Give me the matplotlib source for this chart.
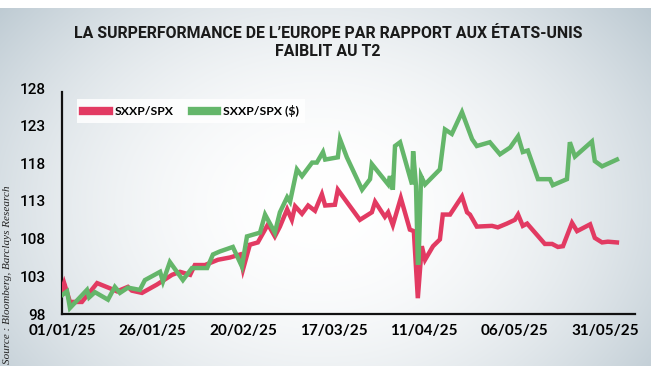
"""Ratio SXXP/SPX depuis le 01/01/25 (base 100) → out.png"""
import numpy as np
import pandas as pd
import matplotlib

matplotlib.use("Agg")
import matplotlib.pyplot as plt
from matplotlib.lines import Line2D

# jours écoulés depuis le 01/01/25 et valeurs
jours_eur = [0, 0.6, 2.2, 5.5, 9.7, 13.3, 15.2, 18.2, 19.3, 22.1, 26.2, 30.4, 32.6,
             35.4, 36.7, 39.5, 43.1, 46.4, 49.2, 50.0, 51.9, 54.1, 56.9, 58.8, 60.2,
             62.2, 63.5, 64.4, 66.3, 68.0, 69.9, 71.8, 72.7, 75.4, 76.2, 82.3, 85.6,
             86.5, 89.2, 90.1, 91.4, 93.6, 96.1, 97.2, 98.3, 99.4, 100.3, 102.5,
             104.4, 105.2, 107.2, 110.5, 111.9, 112.7, 114.6, 118.8, 120.4, 122.9,
             125.1, 126.0, 127.3, 128.5, 133.4, 135.4, 137.0, 138.4, 140.9, 142.3,
             145.9, 147.2, 149.2, 150.8, 153.3]
sxxp_spx = [101.2, 102.1, 99.6, 99.6, 102.1, 101.4, 101.0, 101.6, 101.1, 100.8, 101.9,
            103.2, 103.6, 103.2, 104.5, 104.5, 105.2, 105.5, 105.9, 103.9, 107.2,
            107.5, 109.9, 108.3, 109.6, 111.9, 110.5, 112.3, 111.3, 112.4, 111.7,
            113.9, 112.4, 112.5, 114.5, 110.5, 111.5, 112.9, 110.9, 111.5, 109.8,
            113.4, 109.2, 109.0, 100.1, 107.0, 105.2, 107.0, 107.9, 111.2, 111.2,
            113.6, 111.5, 111.2, 109.6, 109.7, 109.5, 110.0, 110.5, 111.2, 109.7,
            110.0, 107.3, 107.3, 106.9, 107.0, 110.1, 109.0, 109.9, 108.1, 107.5,
            107.6, 107.5]

jours_usd = [0, 1.4, 2.2, 6.9, 7.5, 9.1, 12.7, 14.6, 16.0, 18.2, 21.5, 22.9, 27.1,
             27.9, 29.8, 33.4, 35.9, 40.1, 41.7, 43.6, 47.2, 49.7, 51.1, 54.7, 56.1,
             58.8, 60.2, 62.2, 63.0, 64.9, 66.3, 69.1, 70.4, 72.1, 72.7, 76.2, 76.8,
             78.7, 82.9, 85.1, 85.6, 90.1, 90.6, 91.4, 92.0, 93.4, 96.7, 97.0, 97.8,
             98.3, 98.5, 99.2, 100.3, 104.4, 105.8, 107.7, 110.5, 113.3, 114.6, 118.2,
             121.0, 123.8, 126.0, 127.3, 128.7, 131.5, 134.8, 135.6, 139.5, 140.3,
             141.7, 146.4, 147.2, 149.2, 153.3]
sxxp_spx_usd = [100.5, 101.0, 98.8, 101.2, 100.2, 100.9, 99.9, 101.6, 100.8, 101.5,
                101.2, 102.5, 103.6, 102.3, 104.9, 102.5, 104.1, 104.1, 105.9, 106.3,
                106.9, 104.3, 108.3, 108.8, 111.2, 108.8, 111.5, 113.5, 112.9, 117.2,
                116.3, 118.1, 118.1, 119.5, 118.5, 118.8, 121.2, 118.8, 114.5, 115.9,
                117.9, 115.2, 116.3, 114.5, 120.3, 120.8, 115.2, 119.6, 115.0, 104.8,
                104.8, 116.3, 115.2, 117.2, 122.5, 121.9, 124.8, 121.2, 120.3, 120.8,
                119.2, 120.1, 121.6, 119.5, 119.7, 115.9, 115.9, 115.1, 115.9, 120.8,
                118.9, 120.9, 118.3, 117.6, 118.5]

x_ticks = [0, 25, 50, 75, 100, 125, 150]
y_ticks = [98, 103, 108, 113, 118, 123, 128]

RED = "#E23A62"
GREEN = "#64B66A"
EDGE = np.array([184, 198, 207]) / 255

W, H = 656, 371
fig = plt.figure(figsize=(W / 100, H / 100), dpi=100)
fig.patch.set_facecolor("white")

# fond en dégradé radial
bg = fig.add_axes([0, 0, 1, 1], zorder=-1)
xx, yy = np.meshgrid(np.arange(0, 651), np.arange(8, 366))
r = np.sqrt(((xx - 320) / 430) ** 2 + ((yy - 205) / 330) ** 2)
t = np.clip(r, 0, 1)[..., None] ** 2
img = 1 - (1 - EDGE) * t
bg.imshow(img, extent=[0, 651, 366, 8], aspect="auto", interpolation="bilinear")
bg.set_xlim(0, W)
bg.set_ylim(H, 0)
bg.axis("off")

ax = fig.add_axes([62 / W, 57 / H, 573 / W, 226 / H])
ax.set_facecolor("none")
ax.plot(jours_eur, sxxp_spx, color=RED, lw=3.2, solid_joinstyle="miter", zorder=3)
ax.plot(jours_usd, sxxp_spx_usd, color=GREEN, lw=3.2, solid_joinstyle="miter", zorder=4)

ax.set_xlim(0, 158.3)
ax.set_ylim(98, 128)
ax.set_yticks(y_ticks)
ax.set_xticks(x_ticks)
d0 = pd.Timestamp("2025-01-01")
ax.set_xticklabels([(d0 + pd.Timedelta(days=d)).strftime("%d/%m/%y") for d in x_ticks],
                   fontfamily="Lato", fontweight="bold", fontsize=11)
ax.set_yticklabels([str(v) for v in y_ticks], fontfamily="Roboto", fontsize=11,
                   fontweight="medium")
ax.tick_params(length=0)
ax.tick_params(axis="y", pad=12)
ax.tick_params(axis="x", pad=7)
ax.spines[["top", "right"]].set_visible(False)
ax.spines[["left", "bottom"]].set_linewidth(1.6)
ax.spines[["left", "bottom"]].set_color("#111111")
ax.spines["left"].set_bounds(98, 127.5)

handles = [Line2D([], [], color=RED, lw=6), Line2D([], [], color=GREEN, lw=6)]
leg = ax.legend(handles, ["SXXP/SPX", "SXXP/SPX ($)"], loc="upper left",
                bbox_to_anchor=(0.026, 0.952), ncol=2, frameon=True, fancybox=False,
                handlelength=2.1, handletextpad=0.45, columnspacing=1.5,
                borderpad=0.5, borderaxespad=0,
                prop={"family": "Lato", "weight": "bold", "size": 8.8})
leg.get_frame().set_facecolor("white")
leg.get_frame().set_edgecolor("none")
leg.get_frame().set_alpha(0.85)

fig.text(0.5, 1 - 33 / H, "LA SURPERFORMANCE DE L\u2019EUROPE PAR RAPPORT AUX ÉTATS-UNIS",
         ha="center", va="center", fontfamily="Roboto", fontweight="bold", fontsize=11.4,
         color="#1a1a1a")
fig.text(0.5, 1 - 52 / H, "FAIBLIT AU T2", ha="center", va="center",
         fontfamily="Roboto", fontweight="bold", fontsize=11.4, color="#1a1a1a")

fig.text(8 / W, 1 - 364 / H, "Source : Bloomberg, Barclays Research", rotation=90,
         ha="center", va="bottom", fontfamily="Liberation Serif", style="italic",
         fontsize=8, color="#222222")

fig.savefig("out.png", dpi=100, facecolor="white")
